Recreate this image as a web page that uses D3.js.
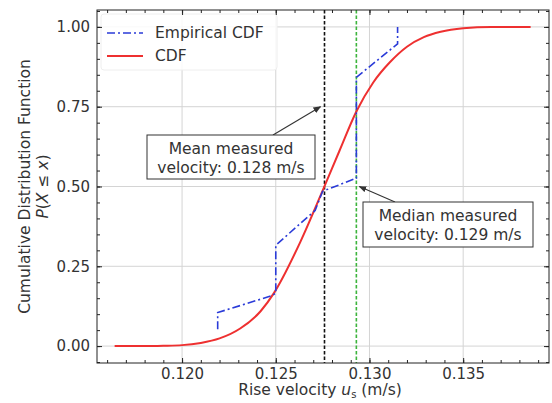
<!DOCTYPE html>
<html>
<head>
<meta charset="utf-8">
<script src="https://cdn.jsdelivr.net/npm/d3@7"></script>
<style>
  html, body { margin: 0; padding: 0; background: #fff; overflow: hidden; }
  svg { display: block; }
</style>
</head>
<body>
<svg id="chart" width="552" height="403" font-family="DejaVu Sans, sans-serif"></svg>
<script>
// empirical CDF points (sorted rise velocities, m/s)
const ecdfX = [0.1219, 0.1219, 0.1248, 0.1250, 0.1250, 0.1271, 0.1275, 0.1293, 0.1293, 0.1315, 0.1315];
const ecdfY = [0.053, 0.105, 0.158, 0.166, 0.316, 0.425, 0.485, 0.526, 0.842, 0.947, 1.000];

// fitted CDF
const cdfX = [0.1164, 0.1180, 0.1190, 0.1200, 0.1210, 0.1220, 0.1231, 0.1242, 0.1249, 0.1263, 0.1275, 0.1284, 0.1293, 0.1302, 0.1311, 0.1320, 0.1329, 0.1338, 0.1350, 0.1365, 0.1386];
const cdfY = [0.000, 0.000, 0.001, 0.003, 0.010, 0.024, 0.055, 0.110, 0.166, 0.325, 0.487, 0.612, 0.735, 0.826, 0.890, 0.938, 0.968, 0.985, 0.996, 1.000, 1.000];

const meanVel = 0.1276;
const medianVel = 0.1293;

const xTicks = [0.120, 0.125, 0.130, 0.135];
const yTicks = [0, 0.25, 0.5, 0.75, 1.0];

const width = 552, height = 403;
const margin = { top: 10, right: 3, bottom: 40, left: 97 };
const innerWidth = width - margin.left - margin.right;
const innerHeight = height - margin.top - margin.bottom;
const textColor = "#333";

const svg = d3.select("#chart");
const g = svg.append("g").attr("transform", `translate(${margin.left},${margin.top})`);

const x = d3.scaleLinear().domain([0.11546, 0.13958]).range([0, innerWidth]);
const y = d3.scaleLinear().domain([-0.053, 1.053]).range([innerHeight, 0]);

// grid
g.append("g").selectAll("line").data(xTicks).enter().append("line")
    .attr("x1", d => x(d)).attr("x2", d => x(d))
    .attr("y1", 0).attr("y2", innerHeight)
    .attr("stroke", "#d4d4d4").attr("stroke-width", 1);
g.append("g").selectAll("line").data(yTicks).enter().append("line")
    .attr("y1", d => y(d)).attr("y2", d => y(d))
    .attr("x1", 0).attr("x2", innerWidth)
    .attr("stroke", "#d4d4d4").attr("stroke-width", 1);

// legend background (covers grid)
g.append("rect")
    .attr("x", 4).attr("y", 4).attr("width", 176).attr("height", 56)
    .attr("fill", "#fff").attr("fill-opacity", 0.85)
    .attr("stroke", "#eeeeee").attr("rx", 3);

// reference lines
g.append("line")
    .attr("x1", x(meanVel)).attr("x2", x(meanVel))
    .attr("y1", 0).attr("y2", innerHeight)
    .attr("stroke", "#111").attr("stroke-width", 1.6)
    .attr("stroke-dasharray", "3.5,2");
g.append("line")
    .attr("x1", x(medianVel)).attr("x2", x(medianVel))
    .attr("y1", 0).attr("y2", innerHeight)
    .attr("stroke", "#3cb43c").attr("stroke-width", 1.6)
    .attr("stroke-dasharray", "3.5,2");

// curves
const cdfLine = d3.line()
    .x(d => x(d[0])).y(d => y(d[1]))
    .curve(d3.curveMonotoneX);
g.append("path")
    .datum(cdfX.map((v, i) => [v, cdfY[i]]))
    .attr("d", cdfLine)
    .attr("fill", "none").attr("stroke", "#ee3030").attr("stroke-width", 2);

const ecdfLine = d3.line().x(d => x(d[0])).y(d => y(d[1]));
g.append("path")
    .datum(ecdfX.map((v, i) => [v, ecdfY[i]]))
    .attr("d", ecdfLine)
    .attr("fill", "none").attr("stroke", "#2a3bd8").attr("stroke-width", 1.6)
    .attr("stroke-dasharray", "8,3,2,3");

// axes with inward ticks on all sides
const minorX = d3.range(0.116, 0.1395, 0.001);
const minorY = d3.range(-0.05, 1.051, 0.05);

function addAxis(axisFn, scale, major, minor, transform, labels) {
    const a = g.append("g").attr("transform", transform);
    a.call(axisFn(scale).tickValues(minor).tickSize(-3).tickFormat(""));
    const b = g.append("g").attr("transform", transform);
    b.call(axisFn(scale).tickValues(major).tickSizeInner(-5).tickSizeOuter(0)
        .tickPadding(axisFn === d3.axisBottom ? 5 : 7)
        .tickFormat(labels ? d3.format(axisFn === d3.axisBottom ? ".3f" : ".2f") : ""));
    [a, b].forEach(s => {
        s.select(".domain").remove();
        s.attr("font-family", null).attr("font-size", 15);
        s.selectAll("line").attr("stroke", "#222");
        s.selectAll("text").attr("fill", textColor);
    });
    a.selectAll("text").remove();
    if (!labels) b.selectAll("text").remove();
}
addAxis(d3.axisBottom, x, xTicks, minorX, `translate(0,${innerHeight})`, true);
addAxis(d3.axisTop, x, xTicks, minorX, "translate(0,0)", false);
addAxis(d3.axisLeft, y, yTicks, minorY, "translate(0,0)", true);
addAxis(d3.axisRight, y, yTicks, minorY, `translate(${innerWidth},0)`, false);

g.append("rect")
    .attr("width", innerWidth).attr("height", innerHeight)
    .attr("fill", "none").attr("stroke", "#222").attr("stroke-width", 1);

// legend
const legend = g.append("g").attr("transform", "translate(10,23)")
    .attr("font-size", 15.5).attr("fill", textColor);
legend.append("line").attr("x1", 0).attr("x2", 36).attr("y1", 0).attr("y2", 0)
    .attr("stroke", "#2a3bd8").attr("stroke-width", 1.6).attr("stroke-dasharray", "8,3,2,3");
legend.append("text").attr("x", 48).attr("y", 0).attr("dy", "0.35em").text("Empirical CDF");
legend.append("line").attr("x1", 0).attr("x2", 36).attr("y1", 23).attr("y2", 23)
    .attr("stroke", "#ee3030").attr("stroke-width", 2);
legend.append("text").attr("x", 48).attr("y", 23).attr("dy", "0.35em").text("CDF");

// annotations
svg.append("defs").append("marker")
    .attr("id", "head").attr("viewBox", "0 0 10 10")
    .attr("refX", 9).attr("refY", 5)
    .attr("markerWidth", 7).attr("markerHeight", 7)
    .attr("orient", "auto-start-reverse")
    .append("path").attr("d", "M0,1 L10,5 L0,9 z").attr("fill", "#333");

function annotate(px, py, bx, by, bw, bh, lines, fromX) {
    g.append("line")
        .attr("x1", fromX).attr("y1", by)
        .attr("x2", px).attr("y2", py)
        .attr("stroke", "#333").attr("stroke-width", 1.1)
        .attr("marker-end", "url(#head)");
    g.append("rect")
        .attr("x", bx).attr("y", by).attr("width", bw).attr("height", bh)
        .attr("fill", "#fff").attr("stroke", "#333").attr("stroke-width", 1);
    lines.forEach((t, i) => {
        g.append("text")
            .attr("x", bx + bw / 2).attr("y", by + 14 + i * 19)
            .attr("text-anchor", "middle").attr("dy", "0.35em")
            .attr("font-size", 15.5).attr("fill", textColor).text(t);
    });
}
annotate(x(meanVel) - 4, y(0.75), 50, 125, 168, 44,
    ["Mean measured", "velocity: 0.128 m/s"], 176);
annotate(x(medianVel) + 3, y(0.5), 266, 192, 170, 45,
    ["Median measured", "velocity: 0.129 m/s"], 298);

// axis titles
const xt = svg.append("text")
    .attr("x", margin.left + innerWidth / 2 - 3).attr("y", 395)
    .attr("text-anchor", "middle").attr("font-size", 15.5).attr("fill", textColor);
xt.append("tspan").text("Rise velocity ");
xt.append("tspan").attr("font-style", "italic").text("u");
xt.append("tspan").attr("dy", 3).attr("font-size", 10).text("s");
xt.append("tspan").attr("dy", -3).text(" (m/s)");

const yt = svg.append("g")
    .attr("transform", `translate(25,${margin.top + innerHeight / 2}) rotate(-90)`)
    .attr("font-size", 15.5).attr("fill", textColor);
yt.append("text").attr("text-anchor", "middle").attr("dy", "0.35em")
    .text("Cumulative Distribution Function");
const yt2 = yt.append("text").attr("y", 18).attr("text-anchor", "middle").attr("dy", "0.35em");
yt2.append("tspan").attr("font-style", "italic").text("P");
yt2.append("tspan").text("(");
yt2.append("tspan").attr("font-style", "italic").text("X");
yt2.append("tspan").text(" ≤ ");
yt2.append("tspan").attr("font-style", "italic").text("x");
yt2.append("tspan").text(")");
</script>
</body>
</html>
